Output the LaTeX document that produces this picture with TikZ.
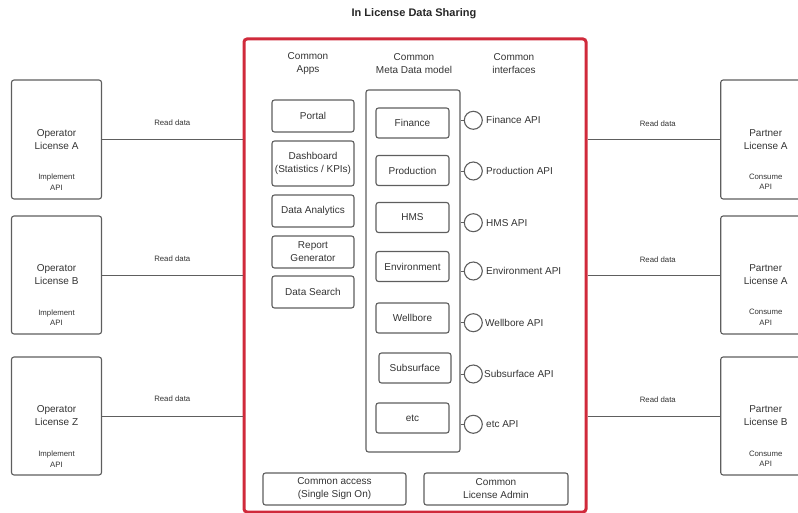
\documentclass[tikz,border=0pt]{standalone}
\usepackage{fontspec}
\setmainfont{Liberation Sans}
\usetikzlibrary{positioning}
\definecolor{boxgray}{HTML}{5E5E5E}
\definecolor{txtgray}{HTML}{333333}
\definecolor{framered}{HTML}{D02A3B}
\begin{document}
\begin{tikzpicture}[x=1pt,y=-1pt,
  box/.style={draw=boxgray,line width=1.1pt,rounded corners=2.5pt,align=center,text=txtgray,font=\fontsize{10}{13}\selectfont,inner sep=1pt},
  lic/.style={box,minimum width=90pt,minimum height=119pt},
  app/.style={box,minimum width=82pt,minimum height=32pt},
  dm/.style={box,minimum width=73pt,minimum height=30pt},
  base/.style={box,minimum width=143pt,minimum height=32pt},
  head/.style={align=center,text=txtgray,font=\fontsize{10}{13}\selectfont},
  apilbl/.style={head,anchor=west,inner sep=1pt},
  note/.style={align=center,text=txtgray,font=\fontsize{7.8}{10.5}\selectfont},
  api/.style={draw=boxgray,line width=1.1pt,circle,minimum size=18pt,inner sep=0pt},
  link/.style={draw=boxgray,line width=0.8pt}]
\useasboundingbox (0,0) rectangle (798,513);

\node[font=\bfseries\fontsize{11}{13}\selectfont,text=black!85] (title) at (414,14) {In License Data Sharing};
\node[draw=framered,line width=3pt,rounded corners=3pt,minimum width=342pt,minimum height=473pt] (hub) at (415,275.5) {};

\node[head] (hApps) at (308,64) {Common\\Apps};
\node[head] (hMeta) at (414,64) {Common\\Meta Data model};
\node[head] (hIntf) at (514,64) {Common\\interfaces};

\node[app] (portal) at (313,116) {Portal};
\node[app,minimum height=45pt] (dash) at (313,163.5) {Dashboard\\(Statistics / KPIs)};
\node[app] (analytics) at (313,211) {Data Analytics};
\node[app] (report) at (313,252) {Report\\Generator};
\node[app] (search) at (313,292) {Data Search};

\node[box,minimum width=94pt,minimum height=362pt] (meta) at (413,271) {};
\node[dm] (fin) at (412.5,123) {Finance};
\node[dm] (prod) at (412.5,170.5) {Production};
\node[dm] (hms) at (412.5,217.5) {HMS};
\node[dm] (env) at (412.5,266.5) {Environment};
\node[dm] (well) at (412.5,318) {Wellbore};
\node[dm,minimum width=72pt] (subs) at (415,368) {Subsurface};
\node[dm] (etc) at (412.5,418) {etc};

\node[api] (ifFin) at (473.3,120.3) {};
\node[api] (ifProd) at (473.3,171) {};
\node[api] (ifHms) at (473.3,222.7) {};
\node[api] (ifEnv) at (473.3,271) {};
\node[api] (ifWell) at (473.3,322.7) {};
\node[api] (ifSubs) at (473.3,374) {};
\node[api] (ifEtc) at (473.3,424.3) {};

\node[apilbl] (lFin) at (485,120.3) {Finance API};
\node[apilbl] (lProd) at (485,171) {Production API};
\node[apilbl] (lHms) at (485,222.7) {HMS API};
\node[apilbl] (lEnv) at (485,271) {Environment API};
\node[apilbl] (lWell) at (484,322.7) {Wellbore API};
\node[apilbl] (lSubs) at (483,374) {Subsurface API};
\node[apilbl] (lEtc) at (485,424.3) {etc API};

\path[link] (meta.east |- ifFin) -- (ifFin);
\path[link] (meta.east |- ifProd) -- (ifProd);
\path[link] (meta.east |- ifHms) -- (ifHms);
\path[link] (meta.east |- ifEnv) -- (ifEnv);
\path[link] (meta.east |- ifWell) -- (ifWell);
\path[link] (meta.east |- ifSubs) -- (ifSubs);
\path[link] (meta.east |- ifEtc) -- (ifEtc);

\node[base] (sso) at (334.5,489) {Common access\\(Single Sign On)};
\node[base,minimum width=144pt] (admin) at (496,489) {Common\\License Admin};

\node[lic] (opA) at (56.5,139.5) {Operator\\License A};
\node[lic,minimum height=118pt] (opB) at (56.5,275) {Operator\\License B};
\node[lic,minimum height=118pt] (opZ) at (56.5,416) {Operator\\License Z};
\node[note] (nA) at (56.5,182) {Implement\\API};
\node[note] (nB) at (56.5,317.5) {Implement\\API};
\node[note] (nZ) at (56.5,459) {Implement\\API};

\node[lic] (ptA) at (765.7,139.5) {Partner\\License A};
\node[lic,minimum height=118pt] (ptA2) at (765.7,275) {Partner\\License A};
\node[lic,minimum height=118pt] (ptB) at (765.7,416) {Partner\\License B};
\node[note] (cA) at (765.7,182) {Consume\\API};
\node[note] (cA2) at (765.7,317.5) {Consume\\API};
\node[note] (cB) at (765.7,459) {Consume\\API};

\path[link] (opA.east) -- (opA.east -| hub.west) node[note,midway,yshift=17pt] {Read data};
\path[link] (opB.east) -- (opB.east -| hub.west) node[note,midway,yshift=16pt] {Read data};
\path[link] (opZ.east) -- (opZ.east -| hub.west) node[note,midway,yshift=17pt] {Read data};
\path[link] (hub.east |- ptA.west) -- (ptA.west) node[note,midway,xshift=4pt,yshift=16pt] {Read data};
\path[link] (hub.east |- ptA2.west) -- (ptA2.west) node[note,midway,xshift=4pt,yshift=15pt] {Read data};
\path[link] (hub.east |- ptB.west) -- (ptB.west) node[note,midway,xshift=4pt,yshift=16pt] {Read data};
\end{tikzpicture}
\end{document}
